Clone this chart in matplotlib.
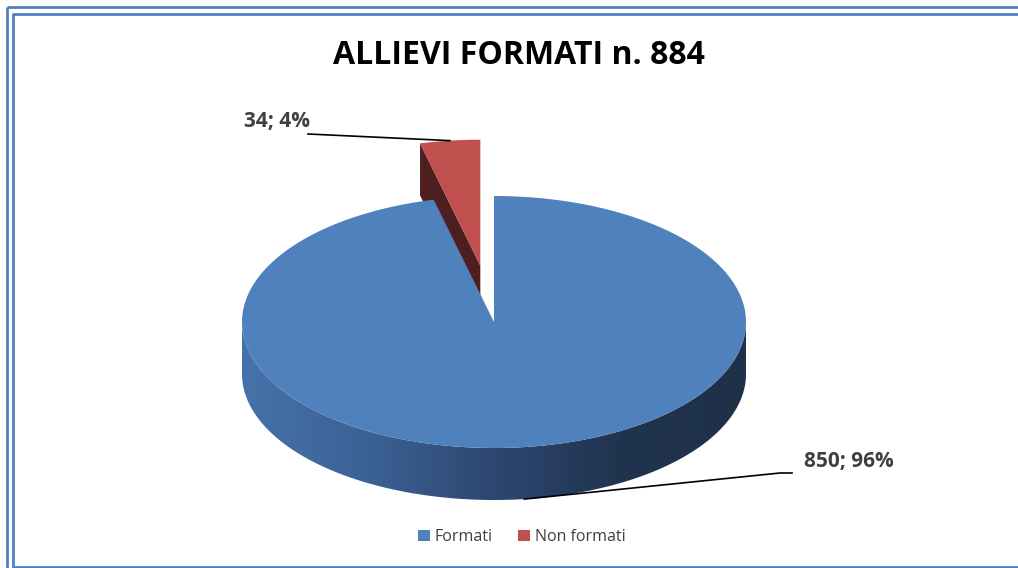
import numpy as np
import matplotlib.pyplot as plt
from matplotlib.patches import Polygon, Patch
from matplotlib.colors import LinearSegmentedColormap

title = "ALLIEVI FORMATI n. 884"
labels = ["Formati", "Non formati"]
values = [850, 34]
colors = ["#4f81bd", "#c0504d"]
explode = [0.0, 0.45]

W, H = 1018, 568
cx, cy = 494, 322        # centre of the top ellipse, in pixels
a, b = 252, 126          # ellipse radii
depth = 52               # thickness of the pie

plt.rcParams["font.family"] = ["Open Sans", "DejaVu Sans"]

fig = plt.figure(figsize=(W / 100, H / 100), dpi=100)
ax = fig.add_axes([0, 0, 1, 1])
ax.set_xlim(0, W)
ax.set_ylim(H, 0)
ax.axis("off")


def pt(t, r=1.0, ox=0.0, oy=0.0, z=0.0):
    return cx + ox + a * r * np.cos(t), cy + oy - b * r * np.sin(t) + z


total = sum(values)
fracs = np.array(values) / total
# clockwise from 12 o'clock
starts = np.pi / 2 - 2 * np.pi * np.concatenate([[0], np.cumsum(fracs)[:-1]])
ends = starts - 2 * np.pi * fracs

wedges = []
for s, e, ex in zip(starts, ends, explode):
    mid = (s + e) / 2
    ox, oy = a * ex * np.cos(mid), -b * ex * np.sin(mid)
    wedges.append((s, e, mid, ox, oy))

# red slice (behind): visible cut face, then top face
s, e, mid, ox, oy = wedges[1]
apex = (cx + ox, cy + oy)
outer = pt(s, ox=ox, oy=oy)
ax.add_patch(Polygon([apex, outer, (outer[0], outer[1] + depth),
                      (apex[0], apex[1] + depth)],
                     closed=True, fc="#4e1f1e", ec="none", zorder=1))
tt = np.linspace(s, e, 40)
xs, ys = pt(tt, ox=ox, oy=oy)
ax.add_patch(Polygon(np.vstack([[apex], np.column_stack([xs, ys])]),
                     closed=True, fc=colors[1], ec="none", zorder=2))

# blue slice: front wall with shading, then top face
s, e, mid, ox, oy = wedges[0]
tw = np.linspace(np.pi, 2 * np.pi, 300)
wx, wy = pt(tw)
wall = Polygon(np.column_stack([np.r_[wx, wx[::-1]], np.r_[wy, wy[::-1] + depth]]),
               closed=True, fc="none", ec="none", zorder=3)
ax.add_patch(wall)
shade = LinearSegmentedColormap.from_list(
    "wall", ["#4672aa", "#3c6295", "#2c4770", "#21344f", "#1f3149"])
grad = np.linspace(0, 1, 256)[None, :]
im = ax.imshow(grad, cmap=shade, aspect="auto", zorder=3, interpolation="bilinear",
               extent=(cx - a, cx + a, cy + b + depth, cy - 2))
im.set_clip_path(wall)
tt = np.linspace(s, e, 400)
xs, ys = pt(tt)
ax.add_patch(Polygon(np.vstack([[(cx, cy)], np.column_stack([xs, ys])]),
                     closed=True, fc=colors[0], ec="none", zorder=4))
ax.set_xlim(0, W)
ax.set_ylim(H, 0)

# data labels with leader lines
lab_kw = dict(fontsize=15, fontweight="bold", color="#404040", zorder=6)
# blue
s, e, mid, ox, oy = wedges[0]
p = pt(mid, z=depth)
ax.plot([p[0], 780, 792], [p[1], 473, 473], color="black", lw=1.2, zorder=5)
ax.text(804, 461, f"{values[0]}; {fracs[0]:.0%}", ha="left", va="center", **lab_kw)
# red
s, e, mid, ox, oy = wedges[1]
p = pt(mid, ox=ox, oy=oy)
ax.plot([p[0], 308], [p[1], 134], color="black", lw=1.2, zorder=5)
ax.text(244, 121, f"{values[1]}; {fracs[1]:.0%}", ha="left", va="center", **lab_kw)

ax.text(519, 56, title, ha="center", va="center", fontsize=23,
        fontweight="bold", color="black")

handles = [Patch(fc=c, ec="none") for c in colors]
ax.legend(handles, labels, loc="center", bbox_to_anchor=(522 / W, 1 - 537 / H),
          ncol=2, frameon=False, fontsize=11.5, labelcolor="#404040",
          handlelength=0.75, handleheight=0.75, handletextpad=0.3,
          columnspacing=1.6)

# double frame
fc = "#4f81bd"
ax.plot([7, 7], [7, H + 5], color=fc, lw=2, solid_capstyle="butt")
ax.plot([7, W + 5], [7, 7], color=fc, lw=2, solid_capstyle="butt")
ax.plot([13, 13, W + 5], [H - 1.5, 14, 14], color=fc, lw=2)
ax.plot([13, W + 5], [H - 1.5, H - 1.5], color=fc, lw=2)

fig.savefig("out.png", dpi=100)
